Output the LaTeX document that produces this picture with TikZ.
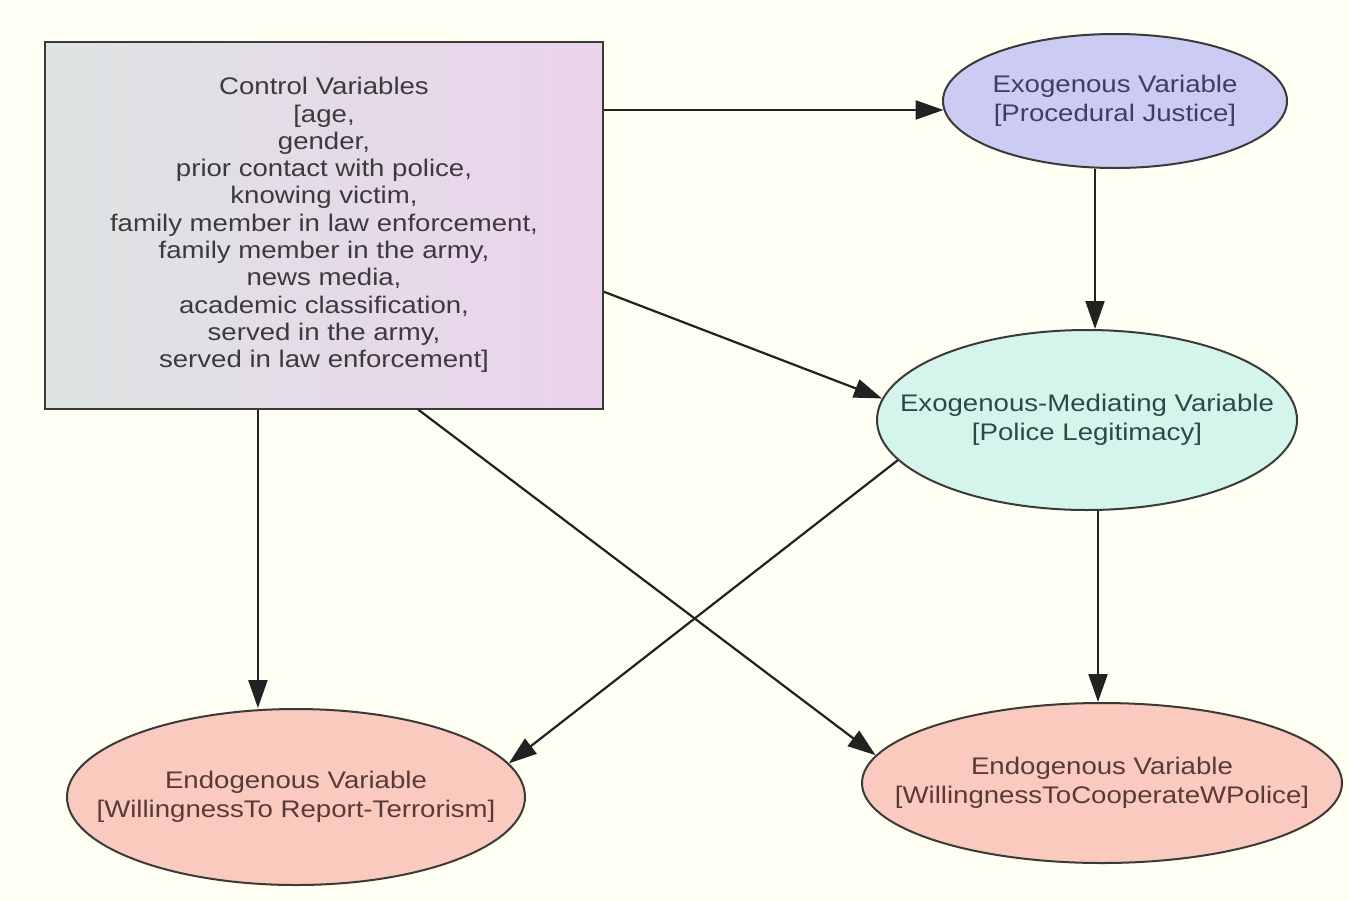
\documentclass[tikz,border=0pt]{standalone}
\usepackage{fontspec}
\setmainfont{Liberation Sans}[FakeStretch=1.15]
\usepackage{xcolor}
\usetikzlibrary{calc,shapes.geometric,arrows.meta}
\definecolor{paper}{HTML}{FFFFF3}
\definecolor{ink}{HTML}{3C3A3C}
\definecolor{line}{HTML}{3A3A3A}
\definecolor{wire}{HTML}{222222}
\definecolor{boxl}{HTML}{DEE4E3}
\definecolor{boxr}{HTML}{EBD3EC}
\definecolor{exofill}{HTML}{CBCBF3}
\definecolor{exoink}{HTML}{3E3E62}
\definecolor{medfill}{HTML}{D5F5EC}
\definecolor{medink}{HTML}{2E4846}
\definecolor{endofill}{HTML}{F9CABD}
\definecolor{endoink}{HTML}{583A3A}
\newcommand{\vfont}{\fontsize{12}{13.65}\selectfont}
\newcommand{\ofont}{\fontsize{12}{14.5}\selectfont}
\tikzset{
  ctrlbox/.style={rectangle, draw=line, line width=1pt, left color=boxl, right color=boxr,
    minimum width=279pt, minimum height=183.5pt, inner sep=0pt, align=center, text=ink, font=\vfont},
  oval/.style={ellipse, draw=line, line width=1pt, inner sep=0pt},
  exo/.style={oval, fill=exofill, minimum width=172pt, minimum height=67pt},
  medi/.style={oval, fill=medfill, minimum width=210pt, minimum height=90pt},
  endo/.style={oval, fill=endofill},
  lab/.style={align=center, font=\ofont, inner sep=0pt},
  edge/.style={draw=wire, line width=1.1pt, -{Triangle[length=14pt,width=9.5pt]}},
}

\begin{document}
\begin{tikzpicture}[x=0.5pt,y=-0.5pt]
  \fill[paper] (0,0) rectangle (1349,900);
  \useasboundingbox (0,0) rectangle (1349,900);
  % nodes
  \node[ctrlbox] (ctrl) at (324,225) {Control Variables\\{[}age,\\gender,\\prior contact with police,\\knowing victim,\\family member in law enforcement,\\family member in the army,\\news media,\\academic classification,\\served in the army,\\served in law enforcement{]}};
  \node[exo, label={[lab,text=exoink]center:{Exogenous Variable\\{[}Procedural Justice{]}}}] (pj) at (1115,101) {};
  \node[medi, label={[lab,text=medink]center:{Exogenous-Mediating Variable\\{[}Police Legitimacy{]}}}] (pl) at (1087,420) {};
  \node[endo, minimum width=229pt, minimum height=88pt, label={[lab,text=endoink]center:{Endogenous Variable\\{[}WillingnessTo Report-Terrorism{]}}}] (rep) at (296,797) {};
  \node[endo, minimum width=240pt, minimum height=80pt, label={[lab,text=endoink]center:{Endogenous Variable\\{[}WillingnessToCooperateWPolice{]}}}] (coop) at (1102,783) {};
  % ports
  \coordinate (c1) at ($(ctrl.north east)!0.681!(ctrl.south east)$);
  \coordinate (c2) at ($(ctrl.south west)!0.382!(ctrl.south east)$);
  \coordinate (c3) at ($(ctrl.south west)!0.668!(ctrl.south east)$);
  \coordinate (p1) at ([xshift=-10pt]pj.south);
  \coordinate (m1) at ([xshift=5.5pt]pl.south);
  % edges
  \draw[edge] (ctrl.east |- pj.183) -- (pj.183);
  \draw[edge] (p1) -- (p1 |- pl.north);
  \draw[edge] (c1) -- (pl.174);
  \draw[edge] (c2) -- (c2 |- rep.north);
  \draw[edge] (c3) -- (coop.173);
  \draw[edge] (pl.192) -- (rep.9);
  \draw[edge] (m1) -- (m1 |- coop.north);
\end{tikzpicture}
\end{document}
